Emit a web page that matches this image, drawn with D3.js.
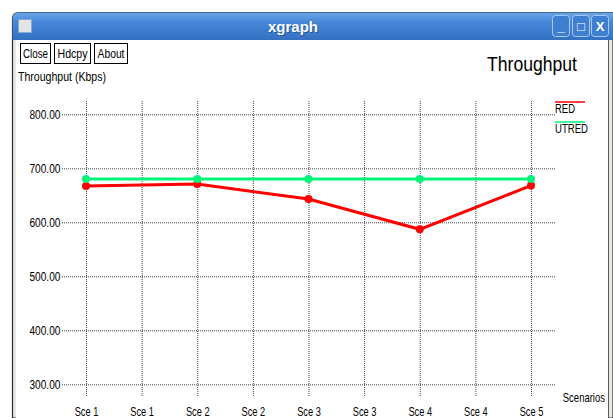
<!DOCTYPE html>
<html>
<head>
<meta charset="utf-8">
<script src="https://cdn.jsdelivr.net/npm/d3@7"></script>
<style>
  body { margin: 0; background: #fff; }
  svg { display: block; }
  text { font-family: "Liberation Sans", Arial, sans-serif; }
  .grid line { stroke: #444; stroke-dasharray: 1,1; }
  .grid .domain { display: none; }
</style>
</head>
<body>
<script>
// chart data
var scenarios = [1, 2, 3, 4, 5];
var redValues = [667, 671, 643, 587, 668];
var utredValues = [680, 680, 680, 680, 680];
var yTicks = [300, 400, 500, 600, 700, 800];
var xTicks = [1, 1.5, 2, 2.5, 3, 3.5, 4, 4.5, 5];
var xTickLabels = ['Sce 1', 'Sce 1', 'Sce 2', 'Sce 2', 'Sce 3', 'Sce 3', 'Sce 4', 'Sce 4', 'Sce 5'];
var seriesNames = ['RED', 'UTRED'];
var seriesColors = ['#ff0000', '#00f47a'];

var width = 613, height = 418;
var svg = d3.select('body').append('svg').attr('width', width).attr('height', height);

// squeezed text, xgraph uses a narrow font
function label(x0, y0, str, size, len, anchor) {
  return svg.append('text').attr('x', x0).attr('y', y0).attr('font-size', size)
    .attr('text-anchor', anchor || 'start')
    .attr('textLength', len).attr('lengthAdjust', 'spacingAndGlyphs').text(str);
}

// window frame
var defs = svg.append('defs');
var grad = defs.append('linearGradient').attr('id', 'tb').attr('x1', 0).attr('y1', 0).attr('x2', 0).attr('y2', 1);
grad.append('stop').attr('offset', '0%').attr('stop-color', '#6aa6ea');
grad.append('stop').attr('offset', '35%').attr('stop-color', '#4688d8');
grad.append('stop').attr('offset', '100%').attr('stop-color', '#3470c2');

svg.append('path')
   .attr('d', 'M12.5,418 L12.5,19 Q12.5,12.5 19,12.5 L613,12.5 L613,418 Z')
   .attr('fill', '#ebe9e3').attr('stroke', '#2a2a2a').attr('stroke-width', 1.2);
svg.append('path')
   .attr('d', 'M12.5,40 L12.5,19 Q12.5,12.5 19,12.5 L613,12.5 L613,40 Z')
   .attr('fill', 'url(#tb)');
svg.append('rect').attr('x', 16).attr('y', 40).attr('width', 592).attr('height', 378).attr('fill', '#fff');
svg.append('line').attr('x1', 608.5).attr('x2', 608.5).attr('y1', 40).attr('y2', 418).attr('stroke', '#555');

// title bar bits
svg.append('rect').attr('x', 18.5).attr('y', 19.5).attr('width', 13).attr('height', 13)
   .attr('fill', '#e4e4e4').attr('stroke', '#8aa8d0');
svg.append('text').attr('x', 293).attr('y', 32).attr('text-anchor', 'middle')
   .attr('font-family', 'DejaVu Sans, sans-serif').attr('font-weight', 'bold').attr('font-size', 15)
   .attr('fill', '#1d3f78').attr('opacity', 0.6).attr('transform', 'translate(1,1)').text('xgraph');
svg.append('text').attr('x', 293).attr('y', 32).attr('text-anchor', 'middle')
   .attr('font-family', 'DejaVu Sans, sans-serif').attr('font-weight', 'bold').attr('font-size', 15)
   .attr('fill', '#fff').text('xgraph');

var winBtns = [[552, '_'], [572, '\u25a1'], [591, 'X']];
winBtns.forEach(function (b) {
  svg.append('rect').attr('x', b[0] + 0.5).attr('y', 15.5).attr('width', 17).attr('height', 21).attr('rx', 3)
     .attr('fill', '#3f7fd2').attr('stroke', '#a9c8ef');
  svg.append('text').attr('x', b[0] + 9).attr('y', 31).attr('text-anchor', 'middle')
     .attr('font-family', 'DejaVu Sans, sans-serif').attr('font-weight', 'bold').attr('font-size', 13)
     .attr('fill', '#fff').text(b[1]);
});

// xgraph buttons
var buttons = [[20.5, 30, 'Close', 25], [54.5, 36, 'Hdcpy', 30], [94.5, 33, 'About', 27]];
buttons.forEach(function (b) {
  svg.append('rect').attr('x', b[0]).attr('y', 43.5).attr('width', b[1]).attr('height', 20)
     .attr('fill', '#fff').attr('stroke', '#000');
  label(b[0] + b[1] / 2, 58, b[2], 13, b[3], 'middle');
});

label(18, 81, 'Throughput (Kbps)', 13, 88);
label(487, 71, 'Throughput', 21, 90);

// scales
var x = d3.scaleLinear().domain([1, 5]).range([86, 531]);
var y = d3.scaleLinear().domain([300, 800]).range([384.3, 114.3]);
var plotLeft = 62, plotRight = 555, plotTop = 101, plotBottom = 397;

// horizontal grid + y labels
svg.append('g').attr('class', 'grid').attr('transform', 'translate(' + plotLeft + ',0)')
   .call(d3.axisLeft(y).tickValues(yTicks).tickFormat(d3.format('.2f'))
          .tickSize(-(plotRight - plotLeft)).tickPadding(2))
   .call(function (g) {
     g.selectAll('text').attr('font-size', 13).attr('fill', '#000')
      .attr('font-family', 'Liberation Sans, sans-serif')
      .attr('transform', 'scale(0.78,1)');
   });

// vertical grid
svg.append('g').attr('class', 'grid').attr('transform', 'translate(0,' + plotTop + ')')
   .call(d3.axisBottom(x).tickValues(xTicks).tickSize(plotBottom - plotTop).tickFormat(''));

// x labels
svg.append('g').attr('class', 'grid').attr('transform', 'translate(0,' + plotBottom + ')')
   .call(d3.axisBottom(x).tickValues(xTicks).tickSize(0).tickPadding(10)
          .tickFormat(function (d, i) { return xTickLabels[i]; }))
   .call(function (g) {
     g.selectAll('text').attr('font-size', 12.5).attr('fill', '#000')
      .attr('font-family', 'Liberation Sans, sans-serif')
      .attr('transform', 'scale(0.74,1)');
   });

svg.append('text').attr('transform', 'translate(605,402) scale(0.76,1)')
   .attr('text-anchor', 'end').attr('font-size', 12.5).text('Scenarios');

// series
var line = d3.line().x(function (d) { return x(d[0]); }).y(function (d) { return y(d[1]); });
[redValues, utredValues].forEach(function (vals, k) {
  var pts = scenarios.map(function (s, i) { return [s, vals[i]]; });
  svg.append('path').datum(pts).attr('d', line).attr('fill', 'none')
     .attr('stroke', seriesColors[k]).attr('stroke-width', 3);
  svg.selectAll('.pt' + k).data(pts).enter().append('circle')
     .attr('cx', function (d) { return x(d[0]); })
     .attr('cy', function (d) { return y(d[1]); })
     .attr('r', 4).attr('fill', seriesColors[k]);
});

// legend
var legendLen = [20, 33];
seriesNames.forEach(function (name, k) {
  var ly = 102 + k * 20;
  svg.append('line').attr('x1', 555).attr('x2', 585).attr('y1', ly).attr('y2', ly)
     .attr('stroke', seriesColors[k]).attr('stroke-width', 2).attr('opacity', 0.75);
  label(555, ly + 10.5, name, 12.5, legendLen[k]);
});
</script>
</body>
</html>
